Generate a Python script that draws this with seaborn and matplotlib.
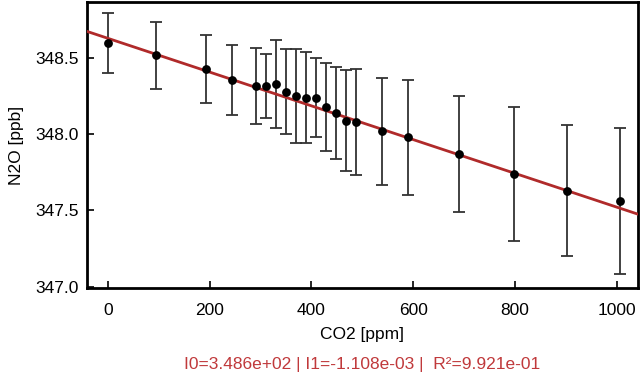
import numpy as np
import pandas as pd
import seaborn as sns
import matplotlib.pyplot as plt
from matplotlib.ticker import FormatStrFormatter

co2 = [0, 95, 193, 243, 291, 310, 330, 350, 369, 389, 409, 429, 448, 468, 487,
       539, 589, 691, 798, 903, 1006]
n2o = [348.60, 348.52, 348.43, 348.36, 348.32, 348.32, 348.33, 348.28, 348.25,
       348.24, 348.24, 348.18, 348.14, 348.09, 348.08, 348.02, 347.98, 347.87,
       347.74, 347.63, 347.56]
n2o_err = [0.20, 0.22, 0.225, 0.23, 0.25, 0.21, 0.29, 0.28, 0.31, 0.30, 0.26,
           0.29, 0.30, 0.33, 0.35, 0.35, 0.38, 0.38, 0.44, 0.43, 0.48]

# fit parameters as printed under the axis
i0 = 348.63
i1 = -1.108e-3
fit_text = "I0=3.486e+02 | I1=-1.108e-03 |  R\u00b2=9.921e-01"

sns.set_style("ticks")
plt.rcParams['font.family'] = ['Liberation Sans', 'DejaVu Sans']

df = pd.DataFrame({"co2": co2, "n2o": n2o, "err": n2o_err})
fit_x = np.array([-60, 1060])
fit_df = pd.DataFrame({"co2": fit_x, "n2o": i0 + i1 * fit_x})

fig = plt.figure(figsize=(6.43, 3.77), dpi=100)
ax = fig.add_axes([0.135, 0.236, 0.857, 0.759])

ax.errorbar(df["co2"], df["n2o"], yerr=df["err"], fmt="none", ecolor="#333333",
            elinewidth=1.3, capsize=4, capthick=1.3, zorder=2)
sns.lineplot(data=fit_df, x="co2", y="n2o", color="#b02a2a", linewidth=2, ax=ax, zorder=3)
sns.scatterplot(data=df, x="co2", y="n2o", color="black", s=40, edgecolor="black",
                linewidth=0, ax=ax, zorder=4)

ax.set_xlim(-42, 1042)
ax.set_ylim(346.99, 348.87)
ax.set_xticks([0, 200, 400, 600, 800, 1000])
ax.set_yticks([347.0, 347.5, 348.0, 348.5])
ax.yaxis.set_major_formatter(FormatStrFormatter("%.1f"))
ax.tick_params(direction="in", length=5, width=1.2, labelsize=12.5, colors="black")
ax.tick_params(axis="x", pad=11)
ax.tick_params(axis="y", pad=6)
for s in ax.spines.values():
    s.set_linewidth(2)
    s.set_color("black")

ax.set_xlabel("CO2 [ppm]", fontsize=12.5, labelpad=6, color="black")
ax.set_ylabel("N2O [ppb]", fontsize=12.5, labelpad=8, color="black")
fig.text(0.563, 0.032, fit_text, ha="center", va="center", fontsize=12.5,
         color="#c0393b")

plt.savefig("out.png", dpi=100)
